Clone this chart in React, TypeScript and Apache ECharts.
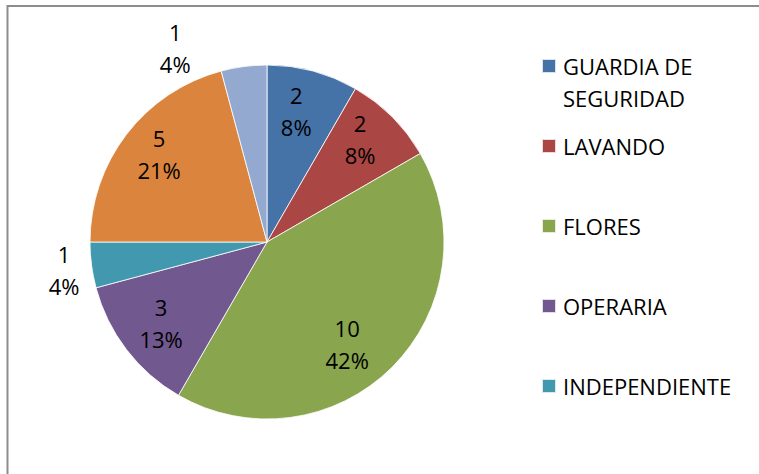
import React, { useEffect, useRef } from "react";
import * as echarts from "echarts";

const categories = [
  "GUARDIA DE SEGURIDAD",
  "LAVANDO",
  "FLORES",
  "OPERARIA",
  "INDEPENDIENTE",
  "OTRO",
  "OTROS",
];
const values = [2, 2, 10, 3, 1, 5, 1];
const legendNames = ["GUARDIA DE SEGURIDAD", "LAVANDO", "FLORES", "OPERARIA", "INDEPENDIENTE"];

const colors = ["#4572A7", "#AA4643", "#89A54E", "#71588F", "#4198AF", "#DB843D", "#93A9CF"];
const labelOffsets = [
  [-6, 0],
  [-3, -7],
  [-16, 6],
  [2, -2],
  [-68, 10],
  [0, -5],
  [-74, -59],
];
const legendTops = [18, 130, 210, 290, 370];

const FONT = "'Open Sans', sans-serif";

export default function App() {
  const ref = useRef<HTMLDivElement>(null);
  useEffect(() => {
    if (!ref.current) return;
    const chart = echarts.init(ref.current, undefined, { renderer: "svg" });
    const total = values.reduce((a, b) => a + b, 0);
    const center = [267, 242];
    const R = 177;
    const mainData = categories.map((name, i) => ({
      name,
      value: values[i],
      itemStyle: { color: colors[i] },
    }));
    const labelData = categories.map((name, i) => ({
      name,
      value: values[i],
      label: { offset: labelOffsets[i] },
    }));
    chart.setOption({
      animation: false,
      graphic: [
        {
          type: "rect",
          shape: { x: 7.5, y: 6, width: 800, height: 500 },
          style: { fill: "none", stroke: "#8c8c8c", lineWidth: 2 },
          z: 100,
        },
      ],
      legend: legendNames.map((name, i) => ({
        data: [name],
        orient: "vertical",
        left: 541,
        top: legendTops[i],
        padding: 0,
        itemWidth: 14,
        itemHeight: 14,
        icon: "rect",
        selectedMode: false,
        formatter: (n: string) => (n === "GUARDIA DE SEGURIDAD" ? "\nGUARDIA DE\nSEGURIDAD" : n),
        textStyle: {
          fontFamily: FONT,
          fontSize: 22,
          color: "#000",
          lineHeight: 32,
          padding: [0, 0, 0, 2],
        },
      })),
      series: [
        {
          type: "pie",
          center,
          radius: [0, R],
          startAngle: 90,
          clockwise: true,
          silent: true,
          label: { show: false },
          labelLine: { show: false },
          itemStyle: { borderColor: "rgba(255,255,255,0.8)", borderWidth: 1 },
          data: mainData,
        },
        {
          type: "pie",
          center,
          radius: [0, 266],
          startAngle: 90,
          clockwise: true,
          silent: true,
          avoidLabelOverlap: false,
          itemStyle: { color: "rgba(0,0,0,0)", borderWidth: 0 },
          labelLine: { show: false },
          label: {
            show: true,
            position: "inside",
            fontFamily: FONT,
            fontSize: 22,
            color: "#000",
            lineHeight: 32,
            align: "center",
            formatter: (p: any) => `${p.value}\n${Math.round((p.value / total) * 100)}%`,
          },
          data: labelData,
        },
      ],
    });
    return () => chart.dispose();
  }, []);
  return (
    <div
      ref={ref}
      style={{ position: "absolute", left: 0, top: 0, width: 759, height: 474, background: "#fff" }}
    />
  );
}
